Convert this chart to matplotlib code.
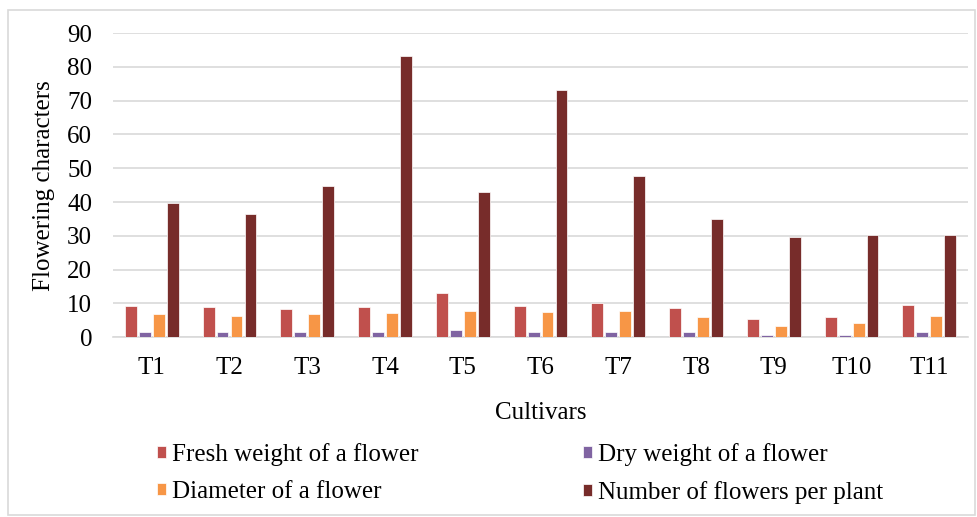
import numpy as np
import matplotlib
matplotlib.use('Agg')
import matplotlib.pyplot as plt
from matplotlib.patches import Rectangle

# ---------- Data ----------
cultivars = ['T1', 'T2', 'T3', 'T4', 'T5', 'T6', 'T7', 'T8', 'T9', 'T10', 'T11']
fresh_weight = [9.2, 8.9, 8.4, 8.9, 13.2, 9.2, 10.0, 8.6, 5.4, 6.0, 9.7]
dry_weight = [1.5, 1.5, 1.5, 1.5, 2.3, 1.5, 1.7, 1.5, 0.8, 0.8, 1.7]
diameter = [6.9, 6.3, 6.9, 7.2, 7.8, 7.4, 7.8, 6.0, 3.4, 4.3, 6.3]
n_flowers = [39.6, 36.5, 44.9, 83.2, 42.9, 73.3, 47.7, 35.1, 29.6, 30.2, 30.2]

series = [
    ('Fresh weight of a flower', fresh_weight, '#C0504D'),
    ('Dry weight of a flower', dry_weight, '#8064A2'),
    ('Diameter of a flower', diameter, '#F79646'),
    ('Number of flowers per plant', n_flowers, '#772C2A'),
]

plt.rcParams['font.family'] = ['Liberation Serif', 'DejaVu Serif']

fig = plt.figure(figsize=(9.78, 5.17), dpi=100)
ax = fig.add_axes([0.1155, 0.3476, 0.8745, 0.5884])

x = np.arange(len(cultivars))
step = 0.18
width = 0.152
bars = []
for i, (label, vals, color) in enumerate(series):
    b = ax.bar(x + (i - 1.5) * step, vals, width, color=color, label=label,
               edgecolor='white', linewidth=0.5, zorder=3)
    bars.append(b)

ax.set_xlim(-0.5, len(cultivars) - 0.5)
ax.set_ylim(0, 90)
ax.set_yticks(range(0, 91, 10))
ax.set_xticks(x)
ax.set_xticklabels(cultivars)
ax.tick_params(axis='both', length=0, labelsize=18, colors='#000000')
ax.tick_params(axis='y', pad=15)
ax.tick_params(axis='x', pad=14)
ax.grid(axis='y', color='#D9D9D9', linewidth=1.2, zorder=0)
for side in ['top', 'left', 'right']:
    ax.spines[side].set_visible(False)
ax.spines['bottom'].set_color('#D9D9D9')
ax.spines['bottom'].set_linewidth(1.2)

ax.set_ylabel('Flowering characters', fontsize=18, labelpad=9)
ax.set_xlabel('Cultivars', fontsize=18, labelpad=17)

# row-major legend order: Fresh, Dry / Diameter, Number
order = [0, 2, 1, 3]
fig.legend([bars[k] for k in order], [series[k][0] for k in order],
           loc='center', bbox_to_anchor=(0.532, 0.084), ncol=2, frameon=False,
           fontsize=18, handlelength=0.35, handleheight=0.35, handletextpad=0.25,
           columnspacing=6.6, labelspacing=0.6)

# light chart border
fig.patches.append(Rectangle((8 / 978, 2 / 517), 967 / 978, 505 / 517,
                             transform=fig.transFigure, fill=False,
                             edgecolor='#D9D9D9', linewidth=1.2))

fig.savefig('out.png', dpi=100)
